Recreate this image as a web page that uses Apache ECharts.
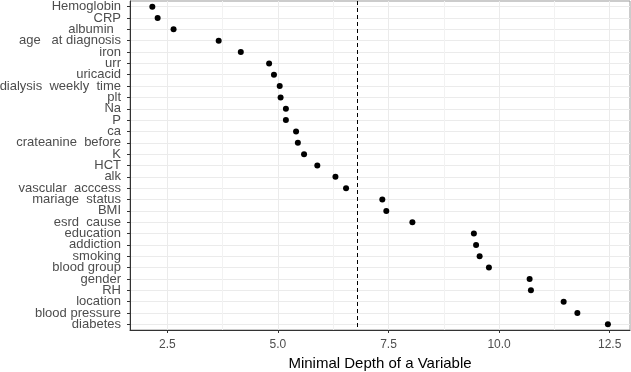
<!DOCTYPE html>
<html>
<head>
<meta charset="utf-8">
<script src="https://cdn.jsdelivr.net/npm/echarts@6/dist/echarts.min.js"></script>
<style>
  html, body { margin: 0; padding: 0; background: #fff; }
  #chart { width: 631px; height: 372px; }
</style>
</head>
<body>
<div id="chart"></div>
<script>
  // variables, top to bottom
  const variables = [
    'Hemoglobin', 'CRP', 'albumin  ', 'age   at diagnosis', 'iron', 'urr', 'uricacid',
    'dialysis  weekly  time', 'plt', 'Na', 'P', 'ca', 'crateanine  before', 'K', 'HCT',
    'alk', 'vascular  acccess', 'mariage  status', 'BMI', 'esrd  cause', 'education',
    'addiction', 'smoking', 'blood group', 'gender', 'RH', 'location', 'blood pressure', 'diabetes'
  ];
  // mean minimal depth per variable
  const depths = [
    2.16, 2.28, 2.64, 3.66, 4.16, 4.80, 4.91,
    5.04, 5.06, 5.18, 5.18, 5.41, 5.45, 5.59, 5.89,
    6.30, 6.54, 7.36, 7.45, 8.04, 9.43,
    9.48, 9.56, 9.77, 10.69, 10.72, 11.46, 11.77, 12.46
  ];
  const threshold = 6.80;
  const xTicks = [2.5, 5.0, 7.5, 10.0, 12.5];
  const xMinorTicks = [3.75, 6.25, 8.75, 11.25];

  const FONT = 'Liberation Sans, Arial, sans-serif';
  const yIndex = variables.map((v, i) => i);

  const chart = echarts.init(document.getElementById('chart'));

  const option = {
    animation: false,
    grid: {
      left: 130, right: 1, top: 1, bottom: 42,
      outerBoundsMode: 'none',
      containLabel: false,
      show: true,
      borderColor: '#999',
      borderWidth: 1,
      backgroundColor: '#fff'
    },
    xAxis: {
      type: 'value',
      min: 1.655,
      max: 12.96,
      name: 'Minimal Depth of a Variable',
      nameLocation: 'middle',
      nameGap: 26,
      nameTextStyle: { color: '#000', fontSize: 15, fontFamily: FONT },
      axisLine: { show: true, onZero: false, lineStyle: { color: '#333', width: 1 } },
      axisTick: { show: true, length: 3, customValues: xTicks, lineStyle: { color: '#333' } },
      axisLabel: {
        customValues: xTicks,
        showMinLabel: true, showMaxLabel: true,
        color: '#4d4d4d', fontSize: 12, fontFamily: FONT, margin: 9,
        formatter: (v) => v.toFixed(1)
      },
      splitLine: { show: true, lineStyle: { color: '#ebebeb', width: 1 } }
    },
    yAxis: [
      {
        // data axis: ticks and grid lines at each variable
        type: 'value',
        inverse: true,
        min: -0.5,
        max: variables.length - 0.5,
        axisLine: { show: true, onZero: false, lineStyle: { color: '#333', width: 1 } },
        axisTick: { show: true, length: 3, customValues: yIndex, lineStyle: { color: '#333' } },
        axisLabel: { show: false },
        splitLine: { show: true, lineStyle: { color: '#ebebeb', width: 1 } }
      },
      {
        // label axis: variable names
        type: 'category',
        inverse: true,
        position: 'left',
        data: variables,
        boundaryGap: true,
        axisLine: { show: false },
        axisTick: { show: false },
        splitLine: { show: false },
        axisLabel: {
          interval: 0,
          hideOverlap: false,
          color: '#4d4d4d', fontSize: 13, fontFamily: FONT, margin: 9
        }
      }
    ],
    series: [
      {
        // minor vertical grid lines
        type: 'scatter',
        data: [],
        z: 1,
        markLine: {
          silent: true,
          symbol: 'none',
          label: { show: false },
          lineStyle: { color: '#f2f2f2', type: 'solid', width: 1 },
          data: xMinorTicks.map((x) => ({ xAxis: x }))
        }
      },
      {
        type: 'scatter',
        symbolSize: 6,
        itemStyle: { color: '#000', opacity: 1 },
        data: depths.map((d, i) => [d, i]),
        z: 5,
        markLine: {
          silent: true,
          symbol: 'none',
          label: { show: false },
          lineStyle: { color: '#000', type: [4, 3], width: 1 },
          data: [{ xAxis: threshold }]
        }
      }
    ]
  };

  chart.setOption(option);
</script>
</body>
</html>
